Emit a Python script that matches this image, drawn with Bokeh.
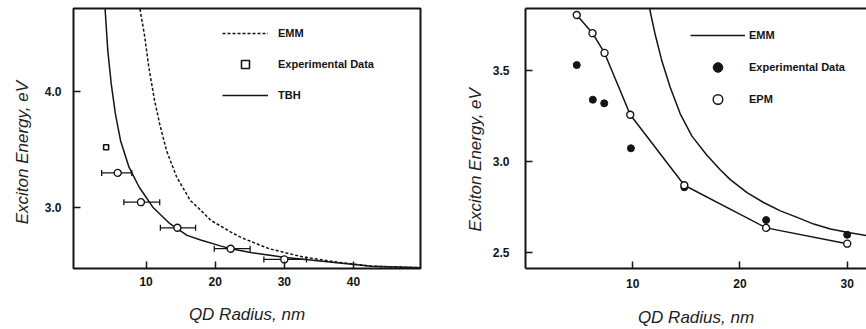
from bokeh.plotting import figure
from bokeh.layouts import row
from bokeh.models import (FixedTicker, NumeralTickFormatter, Legend, LegendItem,
                          Whisker, TeeHead, ColumnDataSource, LinearAxis, Range1d)
from bokeh.embed import file_html
from bokeh.resources import INLINE

INK = "#141414"
FONT = "Liberation Sans"

# ---- Left panel: tight-binding (TBH) vs effective-mass (EMM) ----
tbh_radius = [4.07, 4.46, 4.96, 5.56, 6.30, 7.53, 9.01, 10.98, 13.45, 15.93,
              17.9, 20.86, 22.3, 25.3, 30.2, 37.6, 42.6, 50.0]
tbh_energy = [4.706, 4.349, 4.063, 3.806, 3.578, 3.349, 3.177, 3.006, 2.864, 2.764,
              2.725, 2.672, 2.65, 2.615, 2.575, 2.53, 2.50, 2.485]

emm_left_radius = [9.11, 9.75, 10.4, 11.23, 11.97, 12.96, 14.44, 16.41, 17.9, 19.38,
                   20.86, 22.34, 23.82, 27.78, 32.71, 37.64, 42.59, 50.0]
emm_left_energy = [4.706, 4.49, 4.206, 3.92, 3.72, 3.49, 3.263, 3.063, 2.98, 2.892,
                   2.842, 2.79, 2.744, 2.650, 2.578, 2.535, 2.50, 2.487]

exp_left_radius = [5.90, 9.26, 14.53, 22.24, 30.0]
exp_left_energy = [3.30, 3.049, 2.829, 2.65, 2.558]
exp_left_r_lo = [3.57, 6.79, 12.07, 19.87, 27.04]
exp_left_r_hi = [7.93, 11.97, 17.16, 25.05, 33.2]

exp_left_small_radius = [4.22]
exp_left_small_energy = [3.52]

left_xticks = [10, 20, 30, 40]
left_yticks = [3.0, 4.0]

# ---- Right panel: pseudopotential (EPM) vs effective-mass (EMM) ----
emm_right_radius = [11.57, 12.1, 12.72, 13.5, 14.43, 15.52, 16.92, 18.16, 19.1, 20.66,
                    22.2, 23.77, 25.33, 26.88, 28.44, 30.0, 31.8]
emm_right_energy = [3.844, 3.699, 3.554, 3.408, 3.263, 3.14, 3.035, 2.955, 2.90, 2.828,
                    2.774, 2.728, 2.692, 2.655, 2.628, 2.610, 2.592]

epm_radius = [4.78, 6.25, 7.37, 9.77, 14.81, 22.44, 30.0]
epm_energy = [3.808, 3.708, 3.599, 3.258, 2.869, 2.634, 2.547]

exp_right_radius = [4.78, 6.28, 7.34, 9.83, 14.81, 22.44, 30.0]
exp_right_energy = [3.532, 3.341, 3.321, 3.073, 2.858, 2.677, 2.596]

right_xticks = [10, 20, 30]
right_yticks = [2.5, 3.0, 3.5]

X_LABEL = "QD Radius, nm"
Y_LABEL = "Exciton Energy, eV"
NBSP = "\u00a0"


def style_axis(ax, ticks, label_standoff, title_standoff, fmt=None):
    ax.ticker = FixedTicker(ticks=ticks)
    if fmt:
        ax.formatter = NumeralTickFormatter(format=fmt)
    ax.major_tick_in = 7
    ax.major_tick_out = 0
    ax.major_tick_line_width = 1.5
    ax.major_tick_line_color = INK
    ax.minor_tick_line_color = None
    ax.major_label_text_font = FONT
    ax.major_label_text_font_style = "bold"
    ax.major_label_text_font_size = "12px"
    ax.major_label_text_color = INK
    ax.major_label_standoff = label_standoff
    ax.axis_label_text_font = FONT
    ax.axis_label_text_font_style = "italic"
    ax.axis_label_text_font_size = "17px"
    ax.axis_label_text_color = "#222222"
    ax.axis_label_standoff = title_standoff


def style_legend(leg, glyph_w, glyph_h, spacing, standoff):
    leg.glyph_width = glyph_w
    leg.glyph_height = glyph_h
    leg.label_height = glyph_h
    leg.spacing = spacing
    leg.label_standoff = standoff
    leg.padding = 0
    leg.margin = 0
    leg.border_line_color = None
    leg.background_fill_alpha = 0
    leg.label_text_font = FONT
    leg.label_text_font_style = "bold"
    leg.label_text_font_size = "11px"
    leg.label_text_color = INK


# ---------------- left figure ----------------
p1 = figure(width=460, height=329, output_backend="svg", toolbar_location=None,
            x_range=Range1d(-0.5, 49.7), y_range=Range1d(2.48, 4.71),
            min_border_left=73, min_border_right=40, min_border_top=8, min_border_bottom=61)
p1.grid.visible = False
p1.outline_line_color = INK
p1.outline_line_width = 2
p1.xaxis.axis_line_color = None
p1.yaxis.axis_line_color = None
p1.xaxis.axis_label = X_LABEL
# trailing no-break spaces push the vertical title a little below the frame centre
p1.yaxis.axis_label = Y_LABEL + NBSP * 6
style_axis(p1.xaxis[0], left_xticks, 8, 16)
style_axis(p1.yaxis[0], left_yticks, 12, 10, "0.0")

r_emm1 = p1.line(emm_left_radius, emm_left_energy, line_color=INK, line_width=1.5,
                 line_dash="3 2")
r_tbh = p1.line(tbh_radius, tbh_energy, line_color=INK, line_width=1.5)

err_src = ColumnDataSource(dict(r=exp_left_radius, e=exp_left_energy,
                                lo=exp_left_r_lo, hi=exp_left_r_hi))
whisk = Whisker(source=err_src, base="e", lower="lo", upper="hi", dimension="width",
                line_color=INK, line_width=1.3, level="underlay",
                lower_head=TeeHead(size=6, line_color=INK, line_width=1.3),
                upper_head=TeeHead(size=6, line_color=INK, line_width=1.3))
p1.add_layout(whisk)
p1.scatter("r", "e", source=err_src, marker="circle", size=7, fill_color="white",
           line_color=INK, line_width=1.4)
r_sq = p1.scatter(exp_left_small_radius, exp_left_small_energy, marker="square", size=5,
                  fill_color="white", line_color=INK, line_width=1.6)

leg1 = Legend(items=[LegendItem(label="EMM", renderers=[r_emm1]),
                     LegendItem(label="Experimental Data", renderers=[r_sq]),
                     LegendItem(label="TBH", renderers=[r_tbh])],
              location=(149, 163))
style_legend(leg1, 46, 20, 11, 10)
p1.add_layout(leg1)

# ---------------- right figure ----------------
p2 = figure(width=406, height=329, output_backend="svg", toolbar_location=None,
            x_range=Range1d(0, 31.8), y_range=Range1d(2.41, 3.844),
            min_border_left=65, min_border_right=0, min_border_top=7, min_border_bottom=59)
p2.grid.visible = False
p2.outline_line_color = None
p2.xaxis.axis_label = X_LABEL
p2.yaxis.axis_label = Y_LABEL + NBSP * 9
for ax in (p2.xaxis[0], p2.yaxis[0]):
    ax.axis_line_color = INK
    ax.axis_line_width = 2
style_axis(p2.xaxis[0], right_xticks, 10, 17)
style_axis(p2.yaxis[0], right_yticks, 16, 5, "0.0")
top_axis = LinearAxis(ticker=FixedTicker(ticks=[]), major_label_text_font_size="0px",
                      axis_line_color=INK, axis_line_width=2,
                      major_tick_line_color=None, minor_tick_line_color=None)
p2.add_layout(top_axis, "above")

r_emm2 = p2.line(emm_right_radius, emm_right_energy, line_color=INK, line_width=1.5)
p2.line(epm_radius, epm_energy, line_color=INK, line_width=1.5)
r_exp2 = p2.scatter(exp_right_radius, exp_right_energy, marker="circle", size=7,
                    fill_color=INK, line_color=INK)
r_epm = p2.scatter(epm_radius, epm_energy, marker="circle", size=7, fill_color="white",
                   line_color=INK, line_width=1.4)

leg2 = Legend(items=[LegendItem(label="EMM", renderers=[r_emm2]),
                     LegendItem(label="Experimental Data", renderers=[r_exp2]),
                     LegendItem(label="EPM", renderers=[r_epm])],
              location=(165, 157))
style_legend(leg2, 55, 24, 8, 4)
p2.add_layout(leg2)

layout = row(p1, p2)
open("out.html", "w").write(file_html(layout, INLINE))
